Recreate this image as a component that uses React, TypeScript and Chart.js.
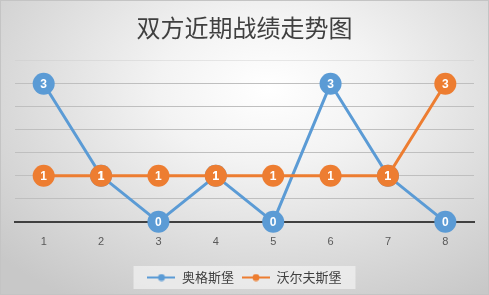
import React, { useEffect, useRef } from "react";
import { Chart, registerables } from "chart.js";

Chart.register(...registerables);

const TITLE = "双方近期战绩走势图";
const CATEGORIES = ["1", "2", "3", "4", "5", "6", "7", "8"];
const SERIES_A_NAME = "奥格斯堡";
const SERIES_A = [3, 1, 0, 1, 0, 3, 1, 0];
const SERIES_B_NAME = "沃尔夫斯堡";
const SERIES_B = [1, 1, 1, 1, 1, 1, 1, 3];
const BLUE = "#5B9BD5";
const ORANGE = "#ED7D31";

function makeLegendIcon(color: string) {
  const c = document.createElement("canvas");
  c.width = 28;
  c.height = 8;
  const ctx = c.getContext("2d")!;
  ctx.strokeStyle = color;
  ctx.lineWidth = 2;
  ctx.beginPath();
  ctx.moveTo(0, 4);
  ctx.lineTo(28, 4);
  ctx.stroke();
  ctx.fillStyle = color;
  ctx.beginPath();
  ctx.arc(14, 4, 3.5, 0, Math.PI * 2);
  ctx.fill();
  return c;
}

const labelPlugin = {
  id: "pointLabels",
  afterDatasetsDraw(chart: any) {
    const ctx = chart.ctx;
    ctx.save();
    ctx.fillStyle = "#ffffff";
    ctx.font = "bold 12px 'Liberation Sans', 'Open Sans', sans-serif";
    ctx.textAlign = "center";
    ctx.textBaseline = "middle";
    const metas = chart.getSortedVisibleDatasetMetas().slice().reverse();
    metas.forEach((meta: any) => {
      const ds = chart.data.datasets[meta.index];
      meta.data.forEach((pt: any, i: number) => {
        ctx.fillText(String(ds.data[i]), pt.x, pt.y + 1);
      });
    });
    ctx.restore();
  },
};

const legendBgPlugin = {
  id: "legendBg",
  beforeDraw(chart: any) {
    const lg = chart.legend;
    if (!lg || !lg.legendHitBoxes || !lg.legendHitBoxes.length) return;
    const boxes = lg.legendHitBoxes;
    let l = Infinity, r = -Infinity, t = Infinity, b = -Infinity;
    boxes.forEach((h: any) => {
      l = Math.min(l, h.left);
      r = Math.max(r, h.left + h.width);
      t = Math.min(t, h.top);
      b = Math.max(b, h.top + h.height);
    });
    const ctx = chart.ctx;
    ctx.save();
    ctx.fillStyle = "rgba(240,240,240,0.75)";
    const cy = (t + b) / 2;
    ctx.fillRect(l - 14, cy - 11.5, r - l + 28, 23);
    ctx.restore();
  },
};

export default function App() {
  const ref = useRef<HTMLCanvasElement | null>(null);
  useEffect(() => {
    if (!ref.current) return;
    const chart = new Chart(ref.current, {
      type: "line",
      data: {
        labels: CATEGORIES,
        datasets: [
          {
            label: SERIES_A_NAME,
            data: SERIES_A,
            borderColor: BLUE,
            backgroundColor: BLUE,
            pointBackgroundColor: BLUE,
            pointBorderColor: BLUE,
            borderWidth: 3,
            pointRadius: 11,
            pointBorderWidth: 0,
            pointStyle: "circle",
            order: 1,
            clip: false,
          },
          {
            label: SERIES_B_NAME,
            data: SERIES_B,
            borderColor: ORANGE,
            backgroundColor: ORANGE,
            pointBackgroundColor: ORANGE,
            pointBorderColor: ORANGE,
            borderWidth: 3,
            pointRadius: 11,
            pointBorderWidth: 0,
            pointStyle: "circle",
            order: 0,
            clip: false,
          },
        ],
      },
      options: {
        animation: false,
        responsive: true,
        maintainAspectRatio: false,
        layout: { padding: { left: 14, right: 14, top: 0, bottom: 0 } },
        scales: {
          x: {
            offset: true,
            grid: { display: false, drawTicks: false },
            border: { display: true, color: "#404040", width: 2 },
            ticks: {
              color: "#595959",
              padding: 14,
              font: { size: 11, family: "'Liberation Sans', 'Open Sans', sans-serif" },
            },
          },
          y: {
            display: true,
            min: 0,
            max: 3.5,
            ticks: { display: false, stepSize: 0.5 },
            border: { display: false },
            grid: {
              drawTicks: false,
              lineWidth: 1,
              color: (c: any) =>
                c.tick && c.tick.value >= 3.5 ? "rgba(200,200,200,0.4)" : c.tick && c.tick.value === 0 ? "rgba(0,0,0,0)" : "#bfbfbf",
            },
          },
        },
        plugins: {
          title: {
            display: true,
            text: TITLE,
            color: "#404040",
            font: { size: 24, family: "'Noto Sans CJK SC', sans-serif", weight: "normal" },
            padding: { top: 12, bottom: 19 },
          },
          legend: {
            display: true,
            position: "bottom",
            labels: {
              usePointStyle: true,
              pointStyleWidth: 28,
              color: "#404040",
              font: { size: 13, family: "'Noto Sans CJK SC', sans-serif" },
              padding: 8,
              sort: (a: any, b: any) => a.datasetIndex - b.datasetIndex,
              generateLabels: (ch: any) =>
                ch.data.datasets.map((ds: any, i: number) => ({
                  text: ds.label,
                  datasetIndex: i,
                  pointStyle: makeLegendIcon(ds.borderColor),
                  fillStyle: ds.borderColor,
                  strokeStyle: ds.borderColor,
                  lineWidth: 0,
                  hidden: false,
                  fontColor: "#404040",
                })),
            },
          },
          tooltip: { enabled: false },
        },
      },
      plugins: [labelPlugin, legendBgPlugin],
    });
    return () => chart.destroy();
  }, []);

  return (
    <div
      style={{
        position: "fixed",
        left: 0,
        top: 0,
        width: 489,
        height: 295,
        boxSizing: "border-box",
        border: "1px solid #c4c4c4",
        background:
          "radial-gradient(ellipse 75% 85% at 55% 30%, #ffffff 0%, #f3f3f3 30%, #dadada 70%, #c8c8c8 100%)",
      }}
    >
      <canvas ref={ref} />
    </div>
  );
}
